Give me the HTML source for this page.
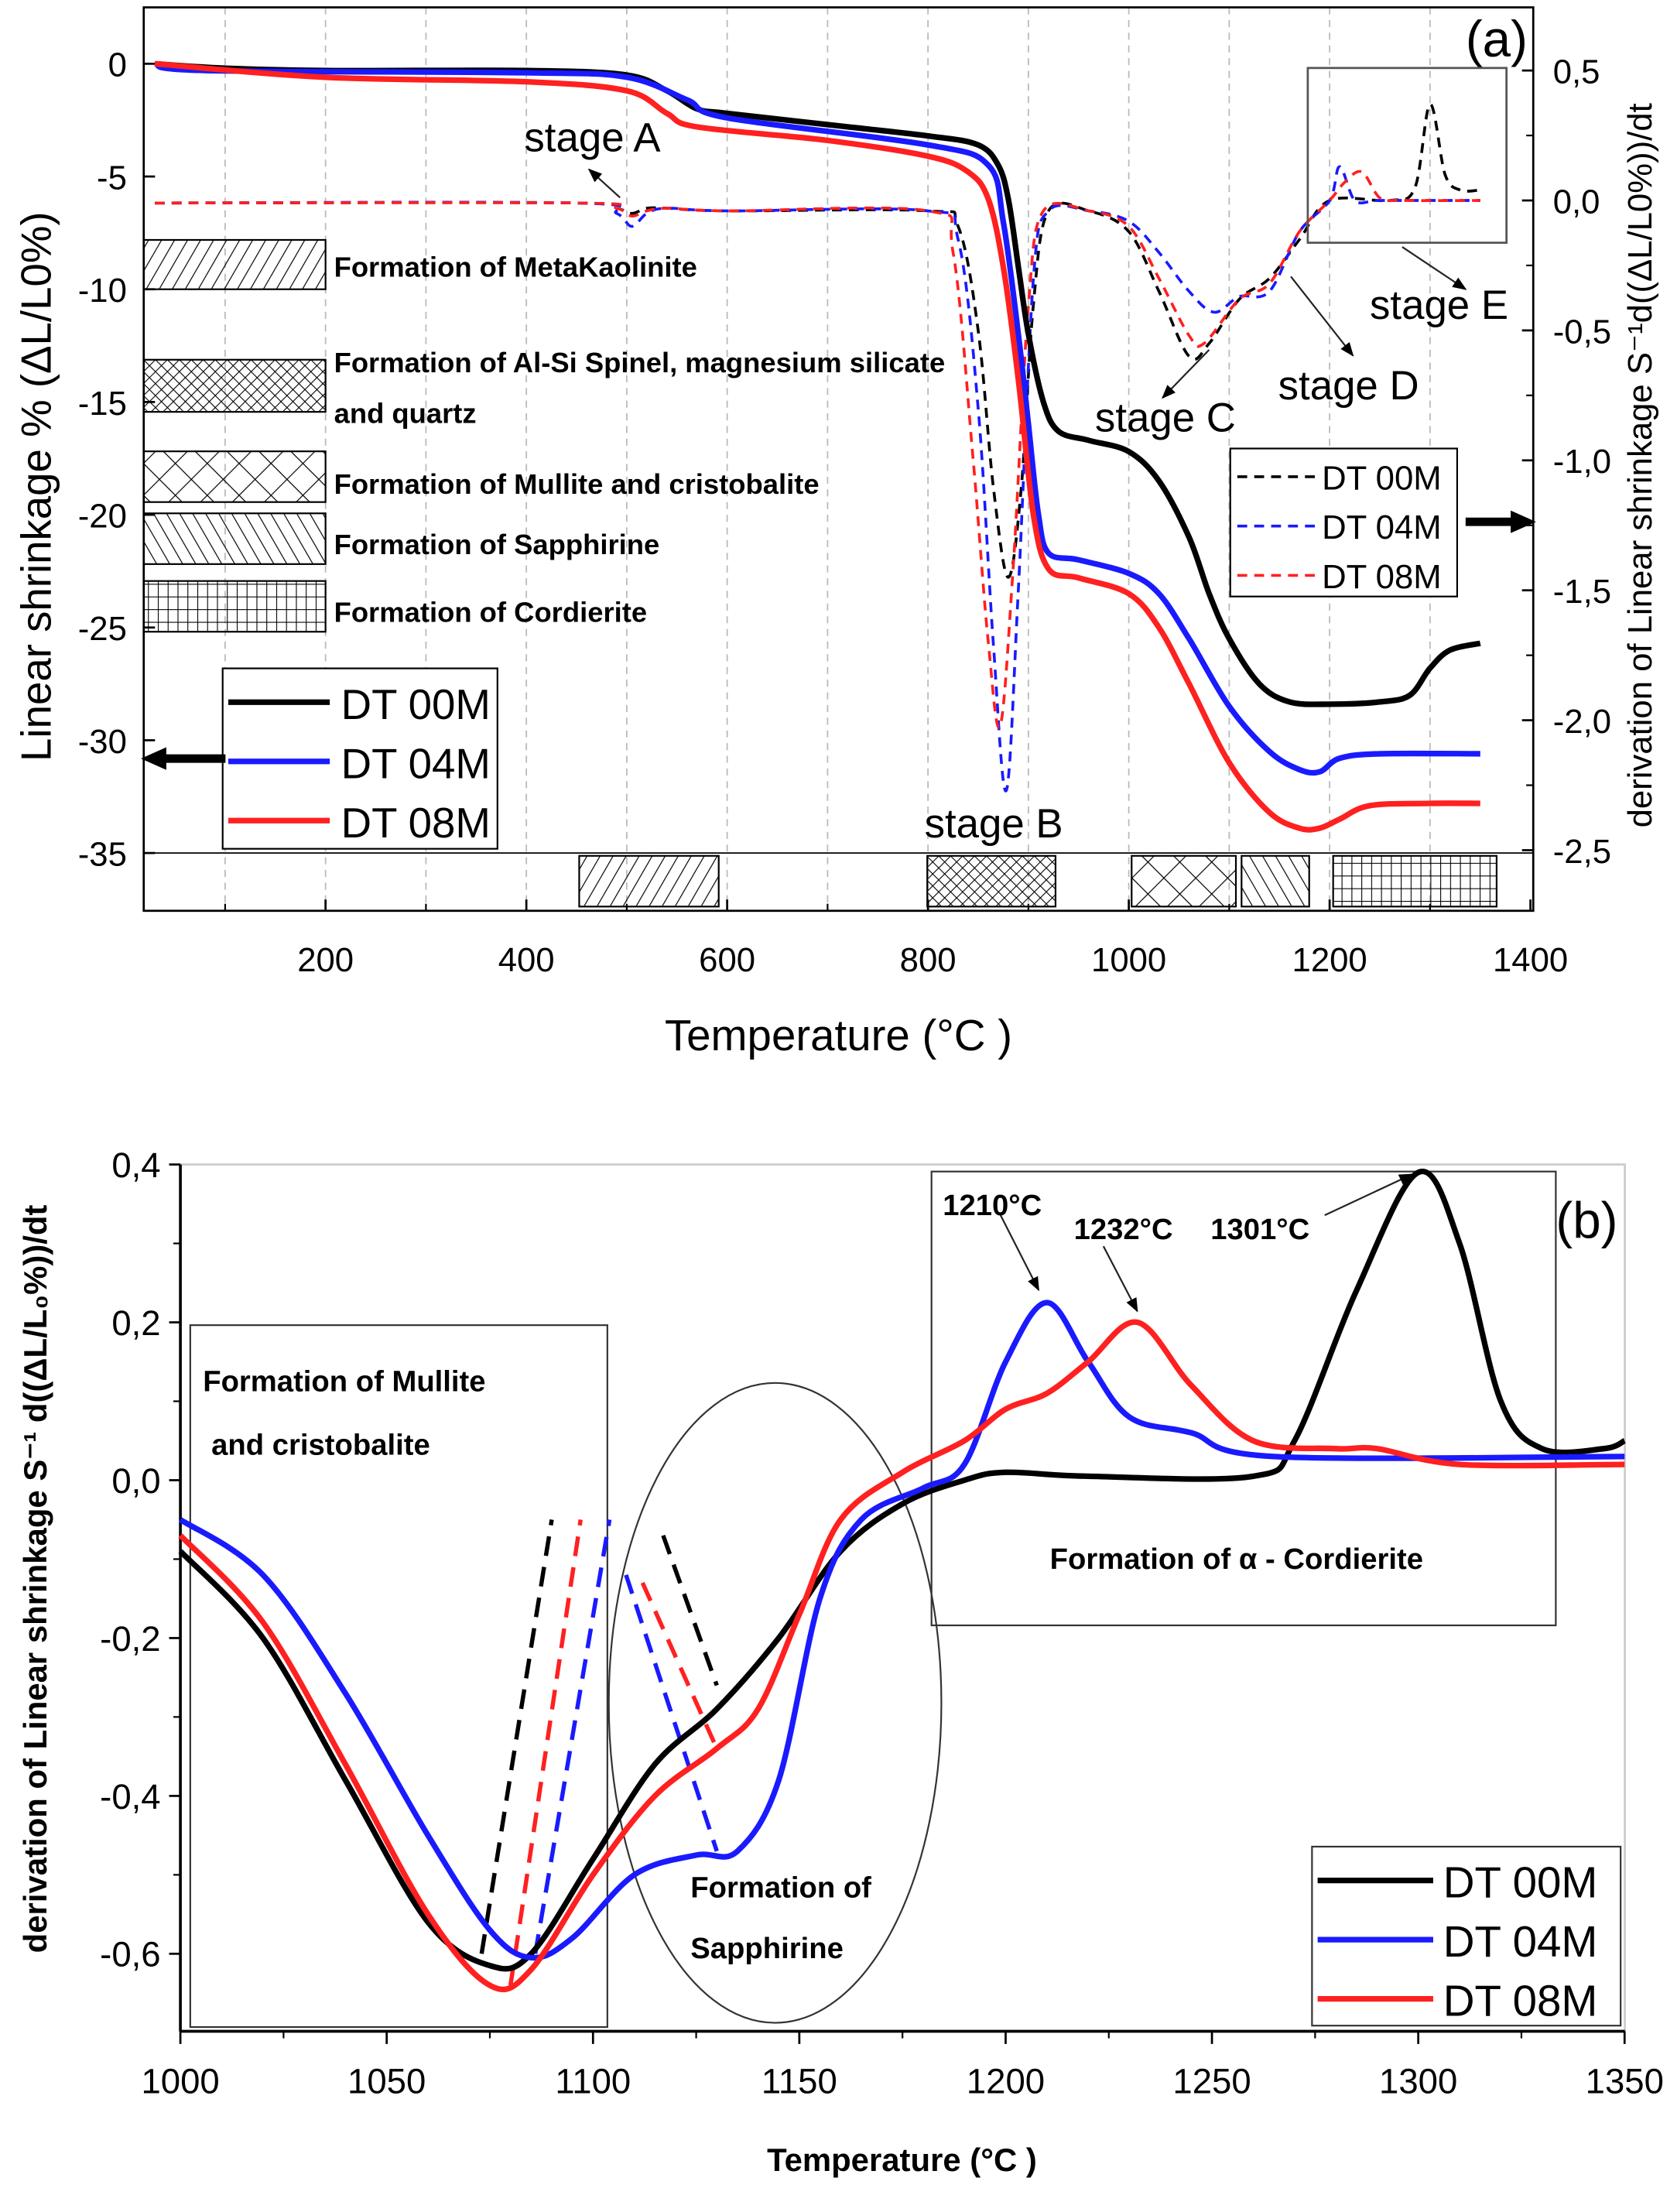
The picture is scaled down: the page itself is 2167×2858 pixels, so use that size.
<!DOCTYPE html>
<html><head><meta charset="utf-8"><style>
html,body{margin:0;padding:0;background:#fff}
svg{display:block}
text{font-family:"Liberation Sans",sans-serif}
.nar{font-family:"Liberation Sans Narrow","Liberation Sans",sans-serif;font-weight:bold}
</style></head><body>
<svg id="svg" width="2167" height="2858" viewBox="0 0 1190 1569" xmlns="http://www.w3.org/2000/svg">
<defs>
<pattern id="hatchF" width="8" height="8" patternUnits="userSpaceOnUse" patternTransform="rotate(30)"><line x1="0" y1="0" x2="0" y2="8" stroke="#000" stroke-width="1.3"/></pattern>
<pattern id="hatchB" width="8" height="8" patternUnits="userSpaceOnUse" patternTransform="rotate(-30)"><line x1="0" y1="0" x2="0" y2="8" stroke="#000" stroke-width="1.3"/></pattern>
<pattern id="cross" width="6" height="6" patternUnits="userSpaceOnUse" patternTransform="rotate(45)"><line x1="0" y1="0" x2="0" y2="6" stroke="#000" stroke-width="1.2"/><line x1="0" y1="0" x2="6" y2="0" stroke="#000" stroke-width="1.2"/></pattern>
<pattern id="bigcross" width="16" height="16" patternUnits="userSpaceOnUse" patternTransform="rotate(45)"><line x1="0" y1="0" x2="0" y2="16" stroke="#000" stroke-width="1.3"/><line x1="0" y1="0" x2="16" y2="0" stroke="#000" stroke-width="1.3"/></pattern>
<pattern id="grid" width="7" height="9" patternUnits="userSpaceOnUse"><line x1="0" y1="0" x2="0" y2="9" stroke="#000" stroke-width="1.2"/><line x1="0" y1="0" x2="7" y2="0" stroke="#000" stroke-width="1.2"/></pattern>
<marker id="arr" markerWidth="10" markerHeight="10" refX="9" refY="5" orient="auto" markerUnits="userSpaceOnUse"><path d="M0,1 L10,5 L0,9 Z" fill="#000"/></marker>
</defs>
<g id="pa"></g>
<g id="pb"></g>
</svg>
<script>
// ---------- Panel (a) data ----------
const aT00=[30,100,200,400,500,540,570,600,700,800,850,870,880,890,900,915,930,960,1000,1030,1060,1080,1100,1130,1160,1200,1250,1280,1300,1320,1350];
const aV00=[0,-0.2,-0.3,-0.3,-0.5,-1.2,-2,-2.2,-2.7,-3.2,-3.6,-4.5,-6,-9,-12,-15,-16.3,-16.7,-17.2,-18.5,-21,-23.5,-25.5,-27.5,-28.3,-28.4,-28.3,-28,-26.8,-26,-25.7];
const aT04=[30,80,400,500,560,600,800,860,875,890,900,910,920,950,1000,1030,1060,1100,1140,1170,1190,1210,1250,1350];
const aV04=[0,-0.3,-0.4,-0.6,-1.6,-2.4,-3.6,-4.5,-7,-12,-16,-20,-21.7,-22,-22.6,-23.5,-25.5,-28.5,-30.5,-31.3,-31.4,-30.8,-30.6,-30.6];
const aT08=[30,200,400,500,540,570,700,800,840,860,875,890,905,920,950,1000,1030,1060,1100,1140,1170,1190,1210,1240,1300,1350];
const aV08=[0,-0.6,-0.8,-1.2,-2.2,-2.8,-3.4,-4.1,-4.8,-6,-9,-14,-20,-22.4,-22.8,-23.5,-25,-27.5,-31,-33.2,-33.9,-33.9,-33.5,-32.9,-32.8,-32.8];
const dT00=[30,450,490,505,520,540,600,800,830,850,865,880,893,905,920,960,1000,1030,1060,1080,1110,1140,1170,1200,1260,1285,1300,1315,1330,1350];
const dV00=[-0.01,-0.01,-0.03,-0.05,-0.03,-0.03,-0.04,-0.04,-0.1,-0.5,-1.1,-1.45,-1.1,-0.4,-0.04,-0.04,-0.12,-0.35,-0.6,-0.55,-0.38,-0.3,-0.15,0.0,0.0,0.05,0.37,0.1,0.04,0.04];
const dT04=[30,450,490,505,520,540,600,800,830,850,865,878,890,905,920,960,1000,1030,1060,1085,1110,1140,1170,1200,1210,1225,1245,1260,1350];
const dV04=[-0.01,-0.01,-0.05,-0.1,-0.05,-0.03,-0.04,-0.04,-0.15,-0.8,-1.7,-2.27,-1.5,-0.3,-0.04,-0.04,-0.08,-0.2,-0.35,-0.43,-0.37,-0.35,-0.12,0.0,0.13,0.0,0.0,0.0,0.0];
const dT08=[30,450,490,505,520,540,600,800,825,845,860,872,885,900,915,960,1000,1030,1060,1075,1110,1140,1170,1200,1215,1232,1250,1270,1350];
const dV08=[-0.01,-0.01,-0.03,-0.06,-0.04,-0.03,-0.04,-0.04,-0.2,-1.0,-1.7,-2.02,-1.4,-0.4,-0.04,-0.04,-0.1,-0.3,-0.52,-0.55,-0.38,-0.32,-0.12,0.0,0.07,0.11,0.01,0.0,0.0];
const aXTicks=[200,400,600,800,1000,1200,1400];
const aYTicks=[0,-5,-10,-15,-20,-25,-30,-35];
const aRTicks=[0.5,0,-0.5,-1,-1.5,-2,-2.5];
const aRLabels=["0,5","0,0","-0,5","-1,0","-1,5","-2,0","-2,5"];
// ---------- Panel (b) data ----------
const bT00=[1000,1020,1040,1060,1075,1085,1100,1115,1130,1145,1160,1175,1190,1200,1220,1260,1270,1285,1300,1310,1320,1330,1345,1350];
const bV00=[-0.09,-0.2,-0.38,-0.56,-0.615,-0.6,-0.48,-0.36,-0.29,-0.2,-0.09,-0.03,0.0,0.01,0.005,0.005,0.05,0.24,0.39,0.3,0.1,0.04,0.04,0.05];
const bT04=[1000,1020,1040,1060,1075,1085,1095,1110,1125,1135,1145,1155,1165,1180,1190,1200,1210,1220,1230,1245,1265,1350];
const bV04=[-0.05,-0.12,-0.27,-0.45,-0.57,-0.605,-0.58,-0.5,-0.475,-0.47,-0.38,-0.15,-0.05,-0.01,0.02,0.15,0.225,0.15,0.08,0.06,0.03,0.03];
const bT08=[1000,1020,1040,1060,1075,1085,1100,1115,1130,1140,1150,1160,1175,1190,1200,1210,1220,1232,1245,1260,1280,1290,1310,1350];
const bV08=[-0.07,-0.18,-0.36,-0.55,-0.64,-0.62,-0.5,-0.4,-0.34,-0.29,-0.17,-0.05,0.01,0.05,0.09,0.11,0.15,0.2,0.12,0.05,0.04,0.04,0.02,0.02];
const bD00a=[[1073,-0.6],[1090,-0.05]], bD00b=[[1117,-0.07],[1130,-0.26]];
const bD04a=[[1086,-0.6],[1104,-0.05]], bD04b=[[1108,-0.12],[1130,-0.47]];
const bD08a=[[1080,-0.64],[1097,-0.05]], bD08b=[[1112,-0.13],[1130,-0.34]];
const bXTicks=[1000,1050,1100,1150,1200,1250,1300,1350];
const bYTicks=[0.4,0.2,0,-0.2,-0.4,-0.6];
const bYLabels=["0,4","0,2","0,0","-0,2","-0,4","-0,6"];

const NS="http://www.w3.org/2000/svg";
function el(parent,tag,attrs,txt){const e=document.createElementNS(NS,tag);for(const k in attrs)e.setAttribute(k,attrs[k]);if(txt!==undefined)e.textContent=txt;parent.appendChild(e);return e;}
function smooth(pts){let d="M"+pts[0][0].toFixed(1)+","+pts[0][1].toFixed(1);
 for(let i=0;i<pts.length-1;i++){const p0=pts[Math.max(0,i-1)],p1=pts[i],p2=pts[i+1],p3=pts[Math.min(pts.length-1,i+2)];
 const c1=[p1[0]+(p2[0]-p0[0])/6,p1[1]+(p2[1]-p0[1])/6],c2=[p2[0]-(p3[0]-p1[0])/6,p2[1]-(p3[1]-p1[1])/6];
 d+=" C"+c1[0].toFixed(1)+","+c1[1].toFixed(1)+" "+c2[0].toFixed(1)+","+c2[1].toFixed(1)+" "+p2[0].toFixed(1)+","+p2[1].toFixed(1);}return d;}

// ===== Panel A =====
const pa=document.getElementById('pa');
const ax=t=>88.5+t*0.7125, ay=v=>45-v*16, ry=v=>142-v*184.4;
const AL=102,AR=1088,AT=5,AB=646;
// grid
for(let t=100;t<=1300;t+=100){const g=el(pa,'line',{x1:ax(t),x2:ax(t),y1:AT,y2:AB,stroke:'#bbb','stroke-width':1,'stroke-dasharray':'5,4'});

}
let r=el(pa,'rect',{x:AL,y:AT,width:AR-AL,height:AB-AT,fill:'none',stroke:'#000','stroke-width':1.5});


el(pa,'line',{x1:AL,x2:AR,y1:605,y2:605,stroke:'#000','stroke-width':1});
// ticks
aXTicks.forEach(t=>{const x=ax(t);el(pa,'line',{x1:x,x2:x,y1:AB,y2:AB-8,stroke:'#000','stroke-width':1.5});
 const l=el(pa,'text',{x:x,y:AB+43,'font-size':24,'text-anchor':'middle'},t);
 
 });
for(let t=100;t<=1300;t+=200)el(pa,'line',{x1:ax(t),x2:ax(t),y1:AB,y2:AB-5,stroke:'#000','stroke-width':1.2});
aYTicks.forEach(v=>{const y=ay(v);el(pa,'line',{x1:AL,x2:AL+8,y1:y,y2:y,stroke:'#000','stroke-width':1.5});
 const l=el(pa,'text',{x:AL-12,y:y+9,'font-size':24,'text-anchor':'end'},v);
 
 });
aRTicks.forEach((v,i)=>{const y=ry(v);el(pa,'line',{x1:AR,x2:AR-8,y1:y,y2:y,stroke:'#000','stroke-width':1.5});
 const l=el(pa,'text',{x:AR+14,y:y+9,'font-size':24},aRLabels[i]);
 
 });
for(let i=0;i<6;i++){const y=ry(0.25-i*0.5);el(pa,'line',{x1:AR,x2:AR-5,y1:y,y2:y,stroke:'#000','stroke-width':1.2});}
let t1=el(pa,'text',{x:595,y:745,'font-size':31,'text-anchor':'middle'},'Temperature (°C )');


let t2=el(pa,'text',{transform:'translate(36,345) rotate(-90)','font-size':30,'text-anchor':'middle'},'Linear shrinkage % (ΔL/L0%)');


let t3=el(pa,'text',{transform:'translate(1172,330) rotate(-90)','font-size':24,'text-anchor':'middle'},'derivation of Linear shrinkage S⁻¹d((ΔL/L0%))/dt');


el(pa,'text',{x:1040,y:40,'font-size':36},'(a)');
// curves
function seriesA(T,V,color,dash,yf,name,w){const pts=T.map((t,i)=>[ax(t),yf(V[i])]);
 const p=el(pa,'path',{d:smooth(pts),fill:'none',stroke:color,'stroke-width':w,'stroke-dasharray':dash||'none','stroke-linejoin':'round'});
 
 }
seriesA(dT00,dV00,'#000','7,5',ry,'deriv-line-dt00m',2);
seriesA(dT04,dV04,'#1a1aff','7,5',ry,'deriv-line-dt04m',2);
seriesA(dT08,dV08,'#ff2020','7,5',ry,'deriv-line-dt08m',2);
seriesA(aT00,aV00,'#000','',ay,'shrink-line-dt00m',4);
seriesA(aT04,aV04,'#1a1aff','',ay,'shrink-line-dt04m',4);
seriesA(aT08,aV08,'#ff2020','',ay,'shrink-line-dt08m',4);
// hatch legend
const hl=[[170,205,'hatchF',['Formation of MetaKaolinite'],189],[255,292,'cross',['Formation of Al-Si Spinel, magnesium silicate',' and quartz'],257],[320,356,'bigcross',['Formation of Mullite  and cristobalite'],343],[364,400,'hatchB',['Formation of Sapphirine'],386],[412,448,'grid',['Formation of Cordierite'],434]];
hl.forEach(h=>{const rr=el(pa,'rect',{x:102,y:h[0],width:129,height:h[1]-h[0],fill:'url(#'+h[2]+')',stroke:'#000','stroke-width':1.2});
 
 
 h[3].forEach((s,i)=>{const tx=el(pa,'text',{x:237,y:h[4]+7+i*36,'font-size':20,class:'nar'},s);
 
 });});
// bottom phase boxes
[[411,510,'hatchF'],[658,749,'cross'],[803,877,'bigcross'],[881,929,'hatchB'],[946,1062,'grid']].forEach(b=>{
 const rr=el(pa,'rect',{x:b[0],y:607,width:b[1]-b[0],height:36,fill:'url(#'+b[2]+')',stroke:'#000','stroke-width':1.2});
 
 });
// legends
let lg=el(pa,'rect',{x:158,y:474,width:195,height:128,fill:'#fff',stroke:'#000','stroke-width':1.2});


[['#000','DT 00M'],['#1a1aff','DT 04M'],['#ff2020','DT 08M']].forEach((s,i)=>{const y=498+i*42;
 el(pa,'line',{x1:162,x2:234,y1:y,y2:y,stroke:s[0],'stroke-width':4});
 const tx=el(pa,'text',{x:242,y:y+12,'font-size':30},s[1]);
 
 });
let lg2=el(pa,'rect',{x:873,y:318,width:161,height:105,fill:'#fff',stroke:'#000','stroke-width':1.2});


[['#000','DT 00M'],['#1a1aff','DT 04M'],['#ff2020','DT 08M']].forEach((s,i)=>{const y=338+i*35;
 el(pa,'line',{x1:878,x2:934,y1:y,y2:y,stroke:s[0],'stroke-width':2,'stroke-dasharray':'7,5'});
 const tx=el(pa,'text',{x:938,y:y+9,'font-size':24},s[1]);
 
 });
el(pa,'rect',{x:928,y:48,width:141,height:124,fill:'none',stroke:'#555','stroke-width':1.5});
// stage labels & arrows
[['stage A',372,107],['stage B',656,594],['stage C',777,306],['stage D',907,283],['stage E',972,226]].forEach(s=>{
 const tx=el(pa,'text',{x:s[1],y:s[2],'font-size':29},s[0]);
 
 });
[[440,140,418,120],[858,248,825,282],[916,196,960,252],[995,175,1040,205]].forEach(a=>el(pa,'line',{x1:a[0],y1:a[1],x2:a[2],y2:a[3],stroke:'#222','stroke-width':1.2,'marker-end':'url(#arr)'}));
// side arrows
el(pa,'path',{d:'M100,538 L118,530 L118,535 L160,535 L160,541 L118,541 L118,546 Z',fill:'#000'});
el(pa,'path',{d:'M1090,370 L1072,362 L1072,367 L1040,367 L1040,373 L1072,373 L1072,378 Z',fill:'#000'});

// ===== Panel B =====
const pb=document.getElementById('pb');
const bx=t=>128+(t-1000)*2.928, by=v=>1050-v*560;
const BL=128,BR=1153,BT=826,BB=1441;
let rb=el(pb,'rect',{x:BL,y:BT,width:BR-BL,height:BB-BT,fill:'none',stroke:'#ccc','stroke-width':1.5});


el(pb,'line',{x1:BL,x2:BL,y1:BT,y2:BB,stroke:'#000','stroke-width':2});
el(pb,'line',{x1:BL,x2:BR,y1:BB,y2:BB,stroke:'#000','stroke-width':2});
bXTicks.forEach(t=>{const x=bx(t);el(pb,'line',{x1:x,x2:x,y1:BB,y2:BB+9,stroke:'#000','stroke-width':1.5});
 const l=el(pb,'text',{x:x,y:BB+44,'font-size':25,'text-anchor':'middle'},t);
 
 });
for(let t=1025;t<1350;t+=50)el(pb,'line',{x1:bx(t),x2:bx(t),y1:BB,y2:BB+5,stroke:'#000','stroke-width':1.2});
bYTicks.forEach((v,i)=>{const y=by(v);el(pb,'line',{x1:BL,x2:BL-8,y1:y,y2:y,stroke:'#000','stroke-width':1.5});
 const l=el(pb,'text',{x:BL-14,y:y+9,'font-size':25,'text-anchor':'end'},bYLabels[i]);
 
 });
for(let v=0.3;v>-0.7;v-=0.2)el(pb,'line',{x1:BL,x2:BL-5,y1:by(v),y2:by(v),stroke:'#000','stroke-width':1.2});
let bt1=el(pb,'text',{x:640,y:1540,'font-size':23,'font-weight':'bold','text-anchor':'middle'},'Temperature (°C )');


let bt2=el(pb,'text',{transform:'translate(33,1120) rotate(-90)','font-size':23,'font-weight':'bold','text-anchor':'middle'},'derivation of Linear shrinkage S⁻¹ d((ΔL/L₀%))/dt');


el(pb,'text',{x:1104,y:878,'font-size':36},'(b)');
// annotation boxes
el(pb,'rect',{x:135,y:940,width:296,height:498,fill:'none',stroke:'#333','stroke-width':1.2});
el(pb,'rect',{x:661,y:831,width:443,height:322,fill:'none',stroke:'#333','stroke-width':1.2});
el(pb,'ellipse',{cx:550,cy:1208,rx:118,ry:227,fill:'none',stroke:'#333','stroke-width':1.2});
[['Formation of Mullite',144,987],['and cristobalite',150,1032],['Formation of Sapphirine'.slice(0,12),490,1346],['Sapphirine',490,1389],['Formation of  α - Cordierite',745,1113],['1210°C',669,862],['1232°C',762,879],['1301°C',859,879]].forEach(s=>{
 const tx=el(pb,'text',{x:s[1],y:s[2],'font-size':21,class:'nar'},s[0]);
 
 });
[[710,862,737,915],[783,884,807,930],[940,862,1002,833]].forEach(a=>el(pb,'line',{x1:a[0],y1:a[1],x2:a[2],y2:a[3],stroke:'#222','stroke-width':1.2,'marker-end':'url(#arr)'}));
function seriesB(T,V,color,name){const pts=T.map((t,i)=>[bx(t),by(V[i])]);
 const p=el(pb,'path',{d:smooth(pts),fill:'none',stroke:color,'stroke-width':4,'stroke-linejoin':'round'});
 
 }
function dashB(seg,color,name){const p=el(pb,'line',{x1:bx(seg[0][0]),y1:by(seg[0][1]),x2:bx(seg[1][0]),y2:by(seg[1][1]),stroke:color,'stroke-width':3,'stroke-dasharray':'14,8'});
 
 }
dashB(bD00a,'#000','dashed-guide-dt00m');dashB(bD00b,'#000','dashed-guide-dt00m');
dashB(bD04a,'#1a1aff','dashed-guide-dt04m');dashB(bD04b,'#1a1aff','dashed-guide-dt04m');
dashB(bD08a,'#ff2020','dashed-guide-dt08m');dashB(bD08b,'#ff2020','dashed-guide-dt08m');
seriesB(bT00,bV00,'#000','deriv-line-b-dt00m');
seriesB(bT04,bV04,'#1a1aff','deriv-line-b-dt04m');
seriesB(bT08,bV08,'#ff2020','deriv-line-b-dt08m');
let lb=el(pb,'rect',{x:931,y:1310,width:219,height:127,fill:'#fff',stroke:'#333','stroke-width':1.2});


[['#000','DT 00M'],['#1a1aff','DT 04M'],['#ff2020','DT 08M']].forEach((s,i)=>{const y=1334+i*42;
 el(pb,'line',{x1:935,x2:1017,y1:y,y2:y,stroke:s[0],'stroke-width':4});
 const tx=el(pb,'text',{x:1024,y:y+12,'font-size':31},s[1]);
 
 });
</script>
</body></html>
